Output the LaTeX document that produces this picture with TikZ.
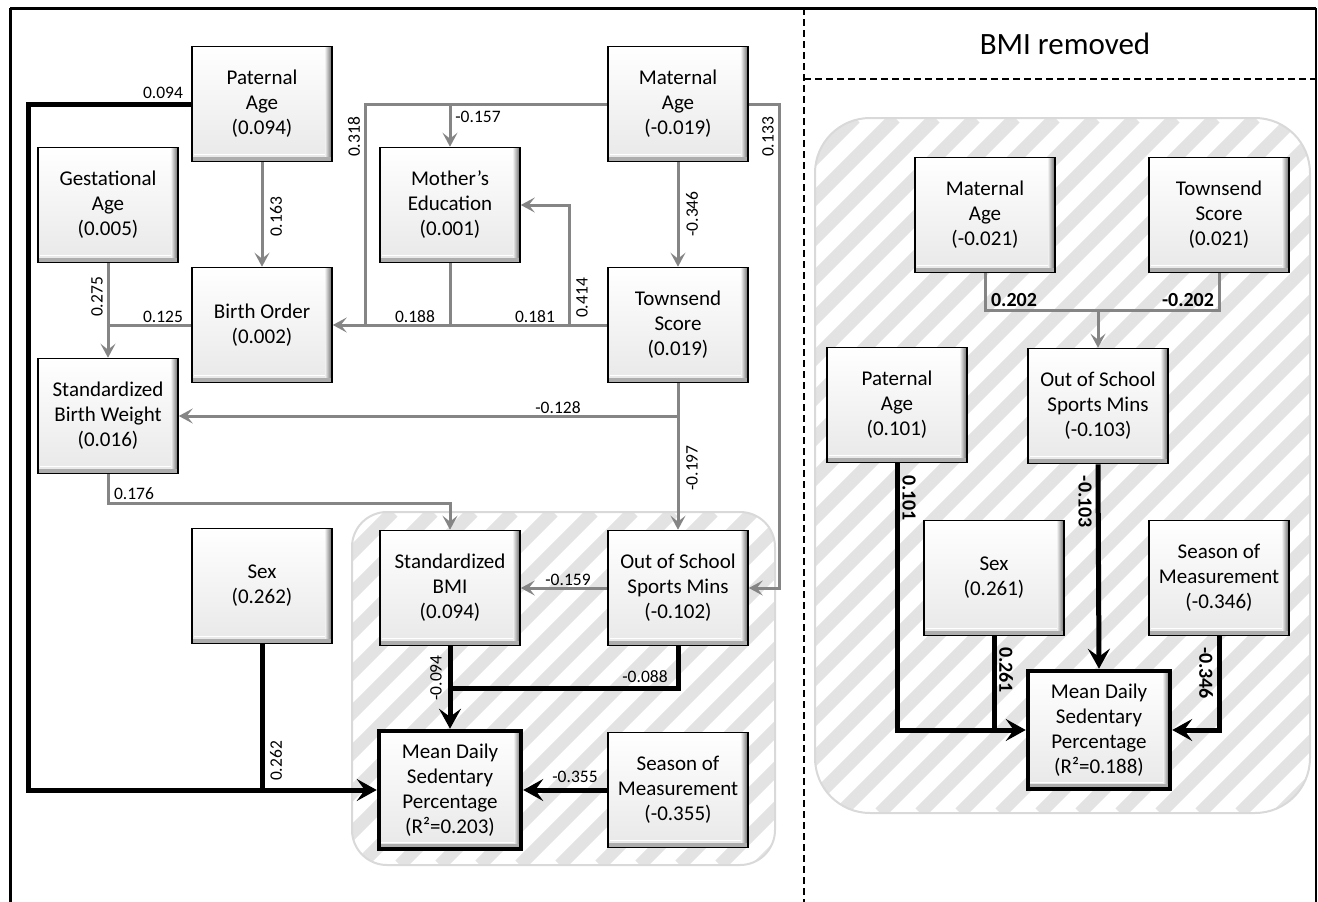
\documentclass[tikz,border=0pt]{standalone}
\usepackage{fontspec}
\setmainfont{Carlito}
\usetikzlibrary{arrows.meta,calc}
\newcommand\boxfont{\fontsize{21}{25}\selectfont}
\newcommand\lblfont{\fontsize{17.5}{19}\selectfont}
\newcommand\rlblfont{\bfseries\fontsize{20}{22}\selectfont}
\tikzset{
  box/.style={draw=black, line width=1.6pt, minimum width=140pt, minimum height=115pt,
    inner sep=2pt, align=center, font=\boxfont,
    path picture={
      \shade[top color=white, bottom color=black!9]
        (path picture bounding box.south west) rectangle (path picture bounding box.north east);
      \shade[left color=black!6, right color=black!60]
        ([xshift=-7pt]path picture bounding box.south east) rectangle (path picture bounding box.north east);
      \fill[black!32]
        (path picture bounding box.south west) rectangle ([yshift=5pt]path picture bounding box.south east);
      \draw[white, line width=1pt]
        ([yshift=7pt,xshift=2pt]path picture bounding box.south west) -- ([yshift=7pt,xshift=-7pt]path picture bounding box.south east);
    }},
  outbox/.style={box, line width=4.5pt, minimum width=142pt, minimum height=118pt},
  gline/.style={draw=black!48, line width=3pt},
  garrow/.style={gline, -{Stealth[length=14pt,width=15pt,inset=6pt]}},
  bline/.style={draw=black, line width=5pt},
  barrow/.style={bline, -{Stealth[length=20pt,width=22pt,inset=8pt]}},
  elbl/.style={font=\lblfont, inner sep=0pt, text=black},
  rlbl/.style={font=\rlblfont, inner sep=0pt, text=black},
  hatchbox/.style={draw=black!15, line width=2pt},
  stripe/.style={draw=black!11, line width=13pt},
}
\begin{document}
\begin{tikzpicture}[x=1pt,y=-1pt]
\useasboundingbox (0,0) rectangle (1318,902);
\fill[white] (0,0) rectangle (1318,902);

% ---- hatched regions ----
\begin{scope}
  \clip[rounded corners=35pt] (352,512) rectangle (775,865);
  \foreach \x in {-40,0,...,800} \draw[stripe] (\x,865) -- (\x+353,512);
\end{scope}
\draw[hatchbox, rounded corners=35pt] (352,512) rectangle (775,865);
\begin{scope}
  \clip[rounded corners=55pt] (815,118) rectangle (1310,813);
  \foreach \x in {80,120,...,1320} \draw[stripe] (\x,813) -- (\x+695,118);
\end{scope}
\draw[hatchbox, rounded corners=55pt] (815,118) rectangle (1310,813);

% ---- frame ----
\draw[line width=3pt] (10,8) -- (1316,8);
\draw[line width=3pt] (10,8) -- (10,902);
\draw[line width=1.5pt] (1316,8) -- (1316,902);
\draw[line width=2pt, dash pattern=on 7pt off 4pt] (804,8) -- (804,902);
\draw[line width=2pt, dash pattern=on 7pt off 4pt] (804,79) -- (1316,79);
\node[font=\fontsize{31}{36}\selectfont, inner sep=0pt] (title) at (1065,44) {BMI removed};

% ---- left nodes ----
\node[box] (pa)  at (262,104) {Paternal\\Age\\(0.094)};
\node[box] (ma)  at (678,104) {Maternal\\Age\\(-0.019)};
\node[box] (ga)  at (108,205) {Gestational\\Age\\(0.005)};
\node[box] (me)  at (450,205) {Mother’s\\Education\\(0.001)};
\node[box] (bo)  at (262,325) {Birth Order\\(0.002)};
\node[box] (ts)  at (678,325) {Townsend\\Score\\(0.019)};
\node[box] (sbw) at (108,416) {Standardized\\Birth Weight\\(0.016)};
\node[box] (sex) at (262,586) {Sex\\(0.262)};
\node[box] (bmi) at (450,588) {Standardized\\BMI\\(0.094)};
\node[box] (oos) at (678,588) {Out of School\\Sports Mins\\(-0.102)};
\node[outbox] (mds) at (450,790) {Mean Daily\\Sedentary\\Percentage\\(R²=0.203)};
\node[box] (som) at (678,790) {Season of\\Measurement\\(-0.355)};

% ---- right nodes ----
\node[box] (ma2)  at (985,215)  {Maternal\\Age\\(-0.021)};
\node[box] (ts2)  at (1219,215) {Townsend\\Score\\(0.021)};
\node[box] (pa2)  at (897,405)  {Paternal\\Age\\(0.101)};
\node[box] (oos2) at (1098,406) {Out of School\\Sports Mins\\(-0.103)};
\node[box] (sex2) at (994,578)  {Sex\\(0.261)};
\node[box] (som2) at (1219,578) {Season of\\Measurement\\(-0.346)};
\node[outbox] (mds2) at (1099,730) {Mean Daily\\Sedentary\\Percentage\\(R²=0.188)};

% ---- left connectors ----
\coordinate (pl) at (28,790);
\draw[barrow] (pa.west) -| (pl) -- (mds.west);
\draw[bline] (sex.south) -- (sex.south |- pl);
\node[elbl] (l094) at (163,93) {0.094};
\node[elbl, rotate=90] (l262) at (276,761) {0.262};

\draw[garrow] (pa.south) -- (bo.north);
\node[elbl, rotate=90] (l163) at (276,217) {0.163};

\coordinate (j318) at (365,325);
\draw[gline] (ma.west) -| (j318);
\draw[garrow] (me.north |- ma.west) -- (me.north);
\node[elbl, rotate=90] (l318) at (354,137) {0.318};
\node[elbl] (l157) at (478,117) {-0.157};

\draw[garrow] (ma.south) -- (ts.north);
\node[elbl, rotate=90] (l346) at (692,214) {-0.346};

\coordinate (r133) at (779,588);
\draw[garrow] (ma.east) -| (r133) -- (oos.east);
\node[elbl, rotate=90] (l133) at (768,137) {0.133};

\draw[garrow] (ts.west) -- (bo.east);
\draw[gline] (me.south) -- (me.south |- ts.west);
\coordinate (j414) at (569,325);
\draw[garrow] (j414) |- (me.east);
\node[elbl] (l188) at (415,317) {0.188};
\node[elbl] (l181) at (535,317) {0.181};
\node[elbl, rotate=90] (l414) at (582,298) {0.414};

\draw[garrow] (ga.south) -- (sbw.north);
\draw[gline] (bo.west) -- (ga.south |- bo.west);
\node[elbl, rotate=90] (l275) at (97,297) {0.275};
\node[elbl] (l125) at (163,317) {0.125};

\draw[garrow] (ts.south) -- (oos.north);
\draw[garrow] (ts.south |- sbw.east) -- (sbw.east);
\node[elbl, rotate=90] (l197) at (692,468) {-0.197};
\node[elbl] (l128) at (558,408) {-0.128};

\coordinate (c176) at (108,503);
\draw[garrow] (sbw.south) -- (c176) -| (bmi.north);
\node[elbl] (l176) at (134,494) {0.176};

\draw[garrow] (oos.west) -- (bmi.east);
\node[elbl] (l159) at (568,580) {-0.159};

\draw[barrow] (bmi.south) -- (mds.north);
\coordinate (c088) at (678,688);
\draw[bline] (oos.south) -- (c088) -- (bmi.south |- c088);
\node[elbl, rotate=90] (l094b) at (436,678) {-0.094};
\node[elbl] (l088) at (645,677) {-0.088};

\draw[barrow] (som.west) -- (mds.east);
\node[elbl] (l355) at (575,777) {-0.355};

% ---- right connectors ----
\coordinate (j2) at (1098,310);
\draw[gline] (ma2.south) |- (j2) -| (ts2.south);
\draw[garrow] (j2) -- (oos2.north);
\node[rlbl] (r202a) at (1014,300) {0.202};
\node[rlbl] (r202b) at (1188,300) {-0.202};

\draw[barrow] (pa2.south) |- (mds2.west);
\draw[bline] (sex2.south) -- (sex2.south |- mds2.west);
\draw[barrow] (oos2.south) -- (mds2.north);
\draw[barrow] (som2.south) |- (mds2.east);
\node[rlbl, rotate=-90] (r101) at (909,498) {0.101};
\node[rlbl, rotate=-90] (r261) at (1006,670) {0.261};
\node[rlbl, rotate=-90] (r103) at (1085,502) {-0.103};
\node[rlbl, rotate=-90] (r346) at (1206,673) {-0.346};
\end{tikzpicture}
\end{document}
